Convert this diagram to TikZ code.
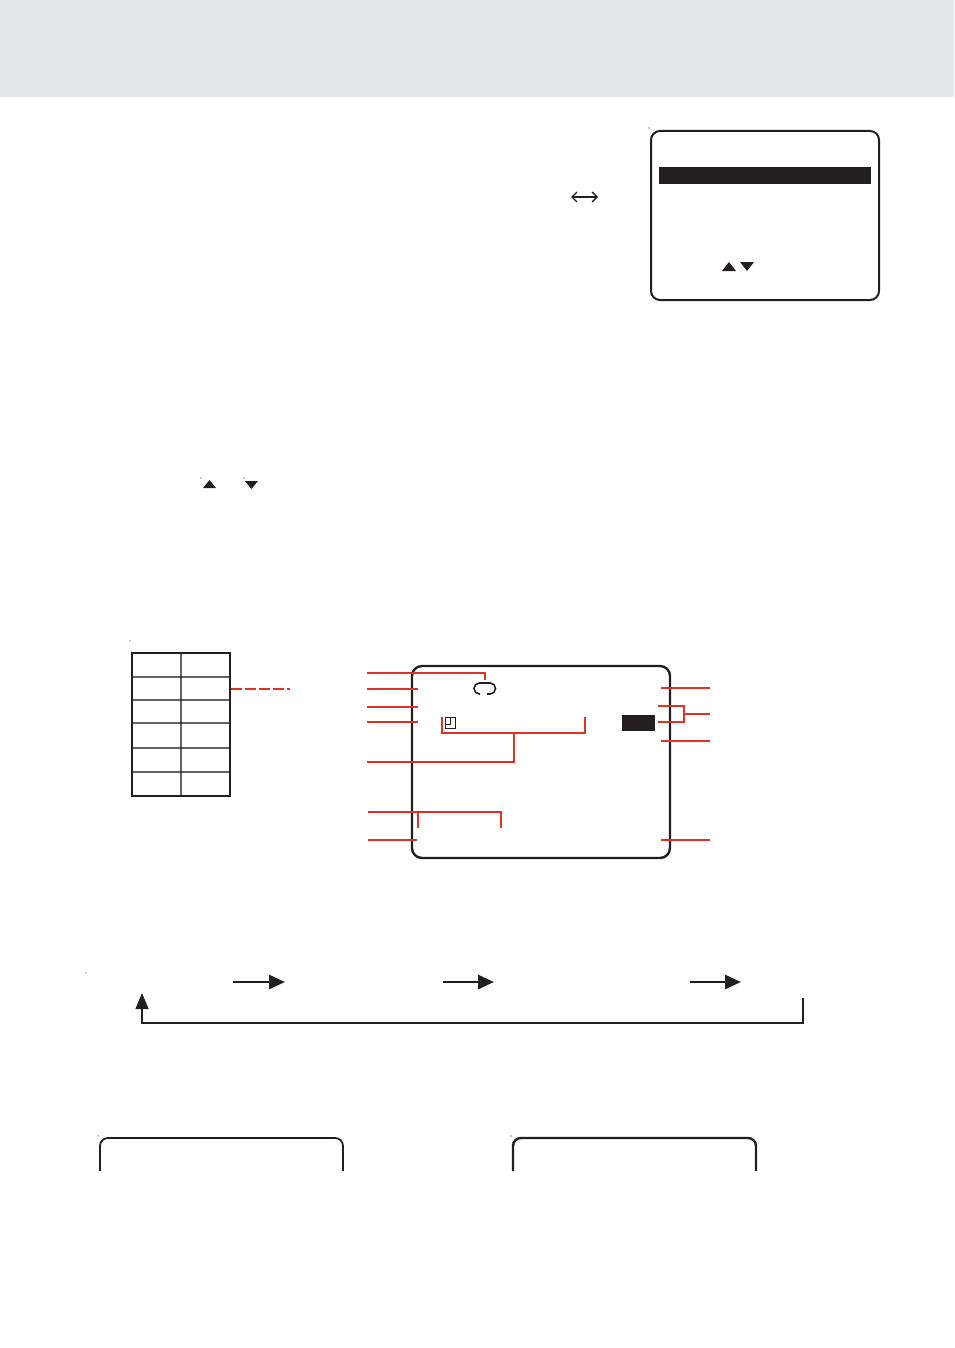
\documentclass[tikz,border=0pt]{standalone}
\usetikzlibrary{arrows.meta}
\definecolor{inkblack}{HTML}{231F20}
\definecolor{inkred}{HTML}{E03224}
\definecolor{bandgray}{HTML}{E6E7E8}
\tikzset{
    screenbox/.style={draw=inkblack,line width=2pt,rounded corners=9pt,inner sep=0pt,outer sep=0pt},
    solidbox/.style={fill=inkblack,inner sep=0pt,outer sep=0pt},
    redline/.style={draw=inkred,line width=2.4pt},
    cell/.style={draw=inkblack,line width=1.2pt,opacity=.7},
    flow/.style={draw=inkblack,line width=2.8pt,-{Triangle[length=16pt,width=14pt]}},
    tri/.style={fill=inkblack},
    speck/.style={fill=inkblack}
}
\begin{document}
\begin{tikzpicture}[x=1pt,y=-1pt]
    \useasboundingbox (0,0) rectangle (954,1348);
    %band
        \fill[bandgray] (0,0) rectangle (954,97);
    %menu screen
    \node[screenbox,minimum width=228pt,minimum height=169pt](menu) at (765,215.5) {};
    \node[solidbox,minimum width=212pt,minimum height=17pt](menubar) at (765,175.5) {};
    \draw[{Straight Barb[length=5pt,width=10pt]}-{Straight Barb[length=5pt,width=10pt]},draw=inkblack,line width=1.4pt] (571,197) -- (598,197);
    \fill[tri] (722,271) -- (736,271) -- (729,262) -- cycle;
    \fill[tri] (740,262) -- (754,262) -- (747,271) -- cycle;
    %small triangles
    \fill[tri] (203,488) -- (216,488) -- (209.5,480) -- cycle;
    \fill[tri] (245,481) -- (258,481) -- (251.5,489) -- cycle;
    %table
    \foreach \y in {677,700,723,748,772}
        \draw[cell] (132,\y) -- (230,\y);
    \draw[cell] (181,653) -- (181,796);
    \node[draw=inkblack,line width=1.6pt,minimum width=98pt,minimum height=143pt,inner sep=0pt,outer sep=0pt](table) at (181,724.5) {};
    \draw[redline,line width=2.8pt,dash pattern=on 11pt off 3pt] (231,689) -- (290,689);
    %display screen
    \node[screenbox,line width=2.4pt,rounded corners=10pt,minimum width=258pt,minimum height=192pt](display) at (541,762) {};
    \node[solidbox,minimum width=33pt,minimum height=16pt](counter) at (638.5,723) {};
    \draw[inkblack,line width=1.6pt,rounded corners=5.4pt] (480,694) -- (474,694) -- (474,683) -- (495.5,683) -- (495.5,694) -- (487,694);
    \draw[inkblack,line width=.9pt] (445,717) rectangle (455,728);
    \draw[inkblack,line width=.9pt] (450,718) -- (450,724) -- (446,724);
    %left callouts
    \draw[redline] (367,673) -- (485,673) -- (485,680);
    \foreach \y in {689,707,722}
        \draw[redline] (367,\y) -- (418,\y);
    \draw[redline] (367,762) -- (514,762) -- (514,733);
    \draw[redline] (442,717) -- (442,733) -- (585,733) -- (585,717);
    \draw[redline] (368,812) -- (501,812) -- (501,828);
    \draw[redline] (418,812) -- (418,828);
    \draw[redline] (368,840) -- (417,840);
    %right callouts
    \foreach \y in {688,741,840}
        \draw[redline] (661,\y) -- (710,\y);
    \draw[redline] (658,706) -- (684,706) -- (684,722) -- (658,722);
    \draw[redline] (684,714) -- (710,714);
    %sequence
    \coordinate (s1) at (233,982);
    \coordinate (e1) at (285,982);
    \coordinate (s2) at (443,982);
    \coordinate (e2) at (494,982);
    \coordinate (s3) at (690,982);
    \coordinate (e3) at (741,982);
    \draw[flow] (s1) -- (e1);
    \draw[flow] (s2) -- (e2);
    \draw[flow] (s3) -- (e3);
    \coordinate (backstart) at (803,998);
    \coordinate (backend) at (142,993);
    \draw[inkblack,line width=1.2pt,-{Triangle[length=16pt,width=13pt]}] (backstart) |- (142,1023) -- (backend);
    %open boxes
    \draw[inkblack,line width=1.8pt,rounded corners=8pt] (100,1171) -- (100,1138) -- (343,1138) -- (343,1171);
    \draw[inkblack,line width=2.4pt,rounded corners=8pt] (513,1171) -- (513,1138) -- (756,1138) -- (756,1171);
    %specks
    \foreach \p in {(649,128),(201,478),(244,478),(130,641),(86,973),(98,1136),(511,1136)}
        \fill[speck] \p circle (.6pt);
\end{tikzpicture}
\end{document}
